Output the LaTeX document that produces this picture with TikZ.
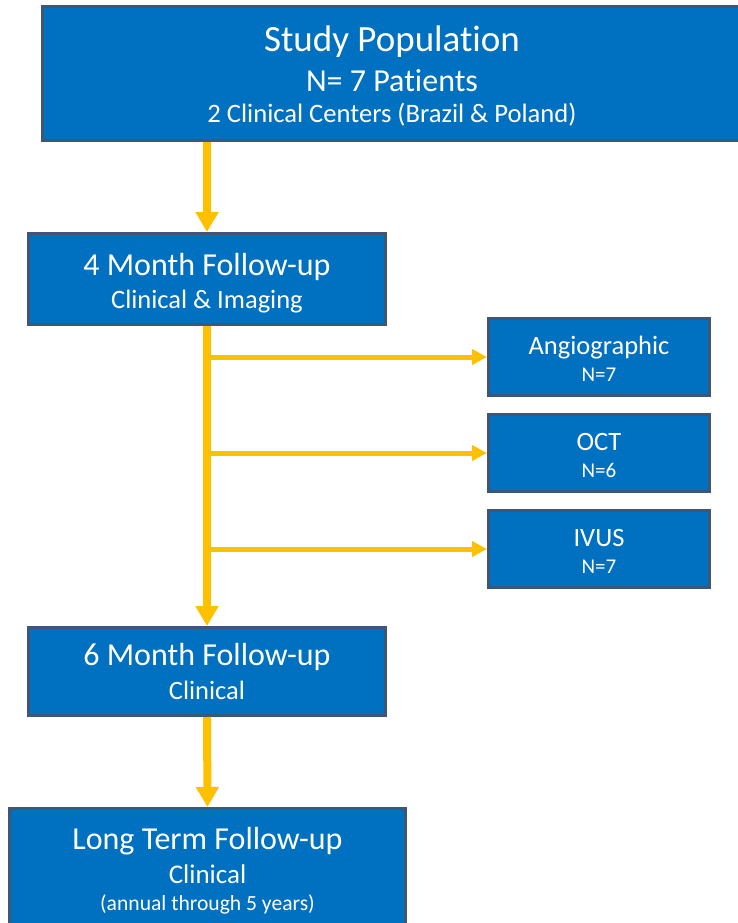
\documentclass[tikz,border=0pt]{standalone}
\usepackage{fontspec}
\setmainfont{Carlito}[Ligatures={NoCommon,NoContextual,NoRequired}]
\usepackage{xcolor}
\usetikzlibrary{positioning,arrows.meta}
\definecolor{cblue}{HTML}{0070C0}
\definecolor{crim}{HTML}{3E5678}
\definecolor{cflow}{HTML}{FFC000}
\newcommand{\fsz}[2]{\fontsize{#1}{#2}\selectfont}
\newcommand{\upstrut}[1]{\rule{0pt}{#1}}
\newcommand{\downstrut}[1]{\rule[-#1]{0pt}{#1}}

\begin{document}
\begin{tikzpicture}[x=1pt, y=-1pt,
  stage/.style={draw=crim, line width=3pt, fill=cblue, text=white, align=center, inner sep=0pt},
  feed/.style={draw=cflow, line width=8pt, -{Triangle[length=20pt, width=22pt]}},
  branch/.style={draw=cflow, line width=5pt, -{Triangle[length=15pt, width=15pt]}}]
\useasboundingbox (0,0) rectangle (738,923);
\clip (0,0) rectangle (738,923);
\node[stage, minimum width=699pt, minimum height=134pt, font=\fsz{26.6}{32}] (pop) at (392,73.5)
  {{\fsz{37}{37}\upstrut{36pt}Study Populat{}ion}\\[7pt] {\fsz{32}{32}N= 7 Pat{}ients}\\ 2 Clinical Centers (Brazil \& Poland)\downstrut{8pt}};
\node[stage, minimum width=357pt, minimum height=91pt, font=\fsz{26.5}{33}] (m4) at (207,279)
  {{\fsz{32}{32}\upstrut{33pt}4 Month Follow-up}\\ Clinical \& Imaging\downstrut{8pt}};
\node[stage, minimum width=357pt, minimum height=88pt, font=\fsz{26.5}{34}] (m6) at (207,671.5)
  {{\fsz{32}{32}\upstrut{29pt}6 Month Follow-up}\\ Clinical\downstrut{8pt}};
\node[stage, minimum width=396pt, minimum height=130pt, font=\fsz{21.6}{27.5}] (lt) at (207.5,873.5)
  {{\fsz{32}{32}\upstrut{29pt}Long Term Follow-up}\\[6pt] {\fsz{27}{27}Clinical}\\ (annual through 5 years)\downstrut{16pt}};
% imaging
\foreach \nm/\lab/\n/\y in {angio/Angiographic/7/357, oct/OCT/6/453, ivus/IVUS/7/549} {
  \node[stage, minimum width=221pt, minimum height=77pt, font=\fsz{21}{27}] (\nm) at (599,\y)
    {{\fsz{26.5}{26.5}\upstrut{29pt}\lab}\\ N=\n\downstrut{8pt}};
  \coordinate (j-\nm) at (m4.south |- \nm.west);
  \draw[branch] (j-\nm) -- (\nm.west);
}
\coordinate (drop) at (m4.north |- pop.south);
\draw[feed] (drop) -- (m4.north);
\draw[feed] (m4.south) -- (m6.north);
\draw[feed] (m6.south) -- (lt.north);
\end{tikzpicture}
\end{document}
